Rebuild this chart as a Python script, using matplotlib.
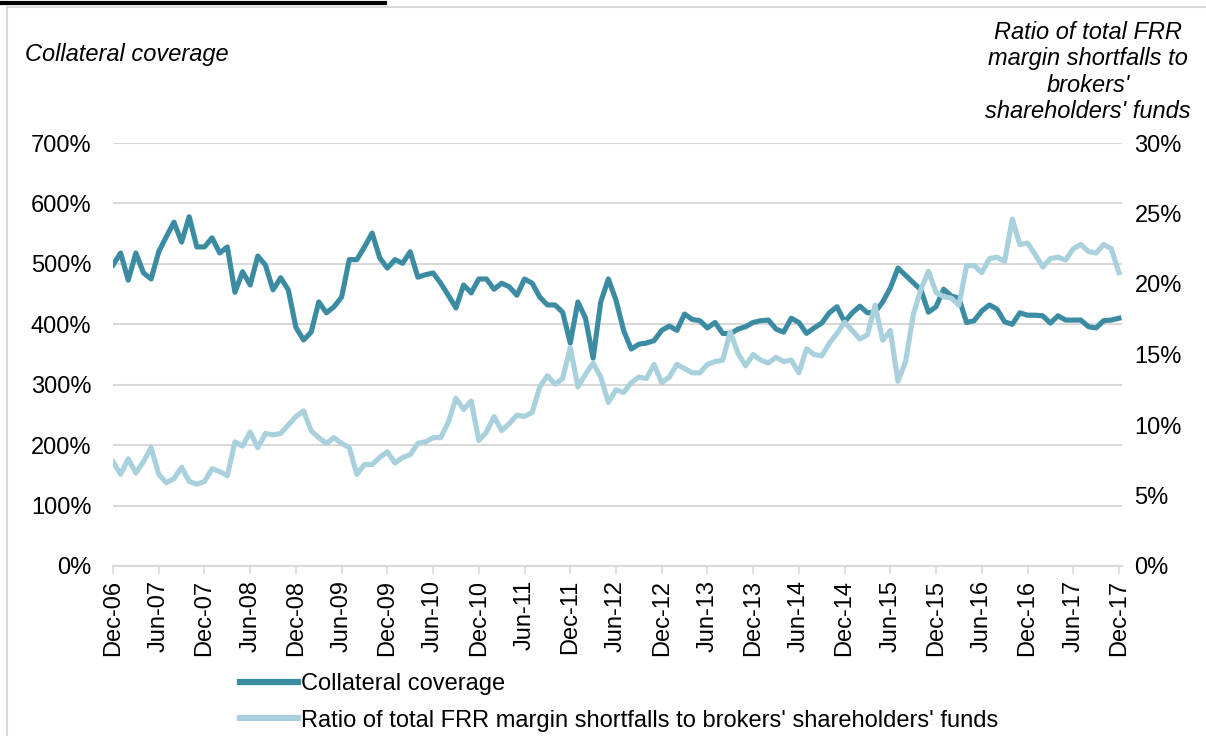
import numpy as np
import matplotlib.pyplot as plt
from matplotlib.patches import Rectangle
from matplotlib.lines import Line2D

plt.rcParams['font.family'] = ['Liberation Sans', 'DejaVu Sans']
plt.rcParams['font.size'] = 17

# Collateral coverage (%), monthly from Dec-06 to Dec-17
cobertura = [498, 518, 473, 518, 485, 475, 520, 545, 569, 536, 578, 528, 528, 543, 518, 528,
             453, 487, 465, 513, 498, 457, 477, 457, 395, 374, 387, 437, 419, 429, 445, 507,
             507, 528, 551, 510, 493, 507, 501, 520, 478, 482, 485, 468, 448, 427, 465, 452,
             475, 475, 458, 468, 462, 448, 475, 468, 445, 432, 432, 420, 369, 437, 410, 344,
             437, 475, 440, 390, 359, 367, 369, 373, 390, 397, 390, 417, 408, 406, 394, 403,
             385, 384, 392, 396, 403, 406, 407, 392, 387, 410, 403, 385, 394, 402, 419, 429,
             404, 419, 430, 419, 420, 437, 460, 493, 481, 469, 457, 420, 429, 458, 447, 443,
             403, 406, 422, 432, 425, 404, 400, 419, 415, 415, 414, 402, 414, 407, 407, 407,
             396, 394, 406, 407, 410]

# Ratio of total FRR margin shortfalls to brokers' shareholders' funds (%)
ratio = [7.4, 6.5, 7.6, 6.6, 7.4, 8.4, 6.5, 5.9, 6.2, 7.0, 6.0, 5.8, 6.0, 6.9, 6.7, 6.4,
         8.8, 8.5, 9.5, 8.4, 9.4, 9.3, 9.4, 10.0, 10.6, 11.0, 9.6, 9.1, 8.7, 9.1, 8.7, 8.4,
         6.5, 7.2, 7.2, 7.7, 8.1, 7.3, 7.7, 7.9, 8.7, 8.8, 9.1, 9.1, 10.2, 11.9, 11.1, 11.7,
         8.9, 9.5, 10.6, 9.6, 10.1, 10.7, 10.6, 10.9, 12.7, 13.5, 12.9, 13.3, 15.5, 12.7, 13.6, 14.4,
         13.4, 11.6, 12.5, 12.3, 13.0, 13.4, 13.3, 14.3, 13.0, 13.4, 14.3, 14.0, 13.7, 13.7, 14.3, 14.5,
         14.6, 16.6, 15.1, 14.2, 15.0, 14.6, 14.4, 14.8, 14.5, 14.6, 13.7, 15.4, 15.0, 14.9, 15.8, 16.5,
         17.3, 16.7, 16.1, 16.4, 18.5, 16.0, 16.7, 13.1, 14.5, 17.8, 19.6, 20.9, 19.4, 19.1, 19.0, 18.5,
         21.3, 21.3, 20.8, 21.8, 21.9, 21.6, 24.6, 22.8, 22.9, 22.1, 21.2, 21.8, 21.9, 21.7, 22.5, 22.8,
         22.3, 22.2, 22.8, 22.5, 20.8]

etiquetas_x = ["Dec-06", "Jun-07", "Dec-07", "Jun-08", "Dec-08", "Jun-09", "Dec-09", "Jun-10",
               "Dec-10", "Jun-11", "Dec-11", "Jun-12", "Dec-12", "Jun-13", "Dec-13", "Jun-14",
               "Dec-14", "Jun-15", "Dec-15", "Jun-16", "Dec-16", "Jun-17", "Dec-17"]

color_oscuro = "#3B8CA3"
color_claro = "#A8D0DD"
gris = "#D9D9D9"

meses = np.arange(len(cobertura))

fig = plt.figure(figsize=(12.06, 7.36), dpi=100)
ax = fig.add_axes([113 / 1206, 1 - 566 / 736, (1122 - 113) / 1206, (566 - 143) / 736])
ax2 = ax.twinx()

ax.plot(meses, cobertura, color=color_oscuro, linewidth=3.7, solid_joinstyle='round')
ax2.plot(meses, ratio, color=color_claro, linewidth=3.7, solid_joinstyle='round')

ax.set_xlim(0, 132.4)
ax.set_ylim(0, 700)
ax2.set_ylim(0, 30)

ax.set_yticks(np.arange(0, 701, 100))
ax.set_yticklabels([f"{v}%" for v in range(0, 701, 100)])
ax2.set_yticks(np.arange(0, 31, 5))
ax2.set_yticklabels([f"{v}%" for v in range(0, 31, 5)])

ax.set_xticks(np.arange(0, 133, 6))
ax.set_xticklabels(etiquetas_x, rotation=90)

ax.grid(axis='y', color=gris, linewidth=1.5)
ax.set_axisbelow(True)
for a in (ax, ax2):
    for s in a.spines.values():
        s.set_visible(False)
ax.spines['bottom'].set_visible(True)
ax.spines['bottom'].set_color(gris)
ax.spines['bottom'].set_linewidth(1.5)

ax.tick_params(axis='y', length=0, pad=15.5)
ax2.tick_params(axis='y', length=0, pad=9)
ax.tick_params(axis='x', length=6, color=gris, width=1.2, pad=4)

fig.text(25 / 1206, 1 - 54 / 736, "Collateral coverage", style='italic', va='center', ha='left')
fig.text(1088 / 1206, 1 - 72 / 736, "Ratio of total FRR\nmargin shortfalls to\nbrokers'\nshareholders' funds",
         style='italic', va='center', ha='center', linespacing=1.19)

# marco del gráfico y subrayado del título cortado
fig.patches.append(Rectangle((7 / 1206, -0.01), 1.0, 1 - 7 / 736 + 0.01, transform=fig.transFigure,
                             fill=False, edgecolor=gris, linewidth=1.5))
fig.lines.append(Line2D([0, 385 / 1206], [1 - 3 / 736, 1 - 3 / 736], transform=fig.transFigure,
                        color='black', linewidth=3))

handles = [Line2D([], [], color=color_oscuro, linewidth=4.5),
           Line2D([], [], color=color_claro, linewidth=4.5)]
fig.legend(handles, ["Collateral coverage",
                     "Ratio of total FRR margin shortfalls to brokers' shareholders' funds"],
           loc='upper left', bbox_to_anchor=(240 / 1206, 1 - 673 / 736), frameon=False,
           borderpad=0, borderaxespad=0, handlelength=2.45, handletextpad=0.12, labelspacing=0.62)

plt.savefig("out.png", dpi=100)
